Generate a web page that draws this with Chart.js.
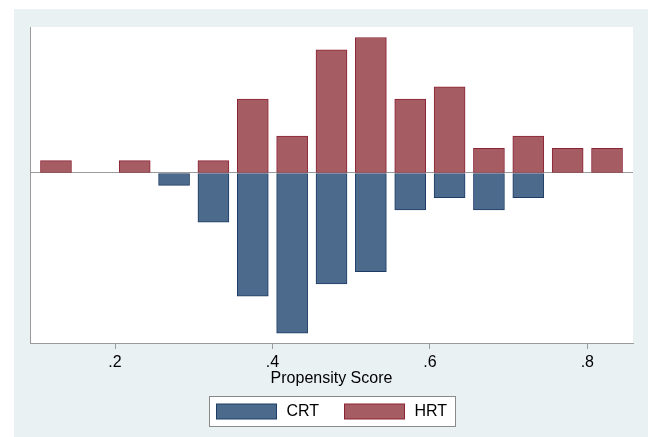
<!DOCTYPE html>
<html><head><meta charset="utf-8">
<script src="https://cdn.jsdelivr.net/npm/chart.js@4/dist/chart.umd.min.js"></script>
<style>html,body{margin:0;padding:0;background:#fff}canvas{display:block}</style>
</head><body>
<canvas id="c" width="648" height="437"></canvas>
<script>
// Bin midpoints of the propensity score (bin width .05)
const binCenters = [0.125,0.175,0.225,0.275,0.325,0.375,0.425,0.475,0.525,0.575,0.625,0.675,0.725,0.775,0.825];
// CRT counts plotted downward (mirrored), HRT counts upward
const crtValues = [0,0,0,-1,-4,-10,-13,-9,-8,-3,-2,-3,-2,0,0];
const hrtValues = [1,0,1,0,1,6,3,10,11,6,7,2,3,2,2];
const xTickValues = [0.2,0.4,0.6,0.8];
const xTickLabels = ['.2','.4','.6','.8'];
const seriesNames = ['CRT','HRT'];
const xTitle = 'Propensity Score';

const FONT = "'Liberation Sans', Arial, sans-serif";
const CRT_FILL = '#4B6A8C', CRT_EDGE = '#1E3C66';
const HRT_FILL = '#A65C63', HRT_EDGE = '#8A2233';
const AXIS = '#9a9a9a';

function pts(vals){
  return binCenters.map((x,i)=>({x:x, y:vals[i]})).filter(p=>p.y!==0);
}

const bgPlugin = {
  id:'bg',
  beforeDraw(chart){
    const {ctx, chartArea:a} = chart;
    ctx.save();
    ctx.fillStyle='#ffffff';
    ctx.fillRect(0,0,chart.width,chart.height);
    ctx.fillStyle='#EAF1F3';
    ctx.fillRect(14,9,chart.width-14,chart.height-9);
    ctx.fillStyle='#ffffff';
    ctx.fillRect(a.left,a.top,a.right-a.left,a.bottom-a.top);
    ctx.restore();
  }
};

const legendPlugin = {
  id:'boxLegend',
  afterDraw(chart){
    const {ctx, chartArea:a} = chart;
    const cx = (a.left+a.right)/2;
    const w = 246, h = 30, top = 396;
    const left = Math.round(cx - w/2)+0.5;
    ctx.save();
    ctx.fillStyle='#ffffff';
    ctx.fillRect(left,top+0.5,w,h);
    ctx.strokeStyle='#8a8a8a';
    ctx.lineWidth=1;
    ctx.strokeRect(left,top+0.5,w,h);
    const items = chart.data.datasets;
    const offs = [7, 135];
    ctx.font = '16px ' + FONT;
    ctx.textBaseline='middle';
    ctx.textAlign='left';
    items.forEach((ds,i)=>{
      const sx = left + offs[i];
      const sy = top + 8;
      ctx.fillStyle = ds.backgroundColor;
      ctx.fillRect(sx, sy, 60, 15);
      ctx.strokeStyle = ds.borderColor;
      ctx.strokeRect(sx, sy, 60, 15);
      ctx.fillStyle='#000';
      ctx.fillText(ds.label, sx+70, sy+8);
    });
    ctx.restore();
  }
};

new Chart(document.getElementById('c'), {
  type:'bar',
  data:{
    datasets:[
      {label:seriesNames[0], data:pts(crtValues), backgroundColor:CRT_FILL, borderColor:CRT_EDGE,
       borderWidth:1, borderSkipped:false, grouped:false, barThickness:31},
      {label:seriesNames[1], data:pts(hrtValues), backgroundColor:HRT_FILL, borderColor:HRT_EDGE,
       borderWidth:1, borderSkipped:false, grouped:false, barThickness:31}
    ]
  },
  options:{
    responsive:false,
    animation:false,
    devicePixelRatio:1,
    layout:{padding:{top:27,left:30,right:15,bottom:49}},
    plugins:{legend:{display:false}, tooltip:{enabled:false}},
    scales:{
      x:{
        type:'linear', position:'bottom', min:0.092, max:0.858, offset:false,
        afterBuildTicks(s){ s.ticks = xTickValues.map(v=>({value:v})); },
        afterFit(s){ s.height = 45; },
        ticks:{autoSkip:false, maxRotation:0, padding:4, color:'#000',
               font:{family:FONT, size:16},
               callback:(v,i)=>xTickLabels[i]},
        grid:{display:true, offset:false, drawOnChartArea:false, drawTicks:true, tickLength:6, color:AXIS},
        border:{display:true, color:AXIS, width:1},
        title:{display:true, text:xTitle, color:'#000', font:{family:FONT, size:16}, padding:{top:0,bottom:0}}
      },
      y:{
        type:'linear', min:-13.8, max:11.85,
        afterBuildTicks(s){ s.ticks = [{value:0}]; },
        afterFit(s){ s.width = 0; },
        ticks:{display:false},
        grid:{display:true, offset:false, drawTicks:false, color:AXIS, lineWidth:1},
        border:{display:true, color:AXIS, width:1}
      }
    }
  },
  plugins:[bgPlugin, legendPlugin]
});
</script>
</body></html>
